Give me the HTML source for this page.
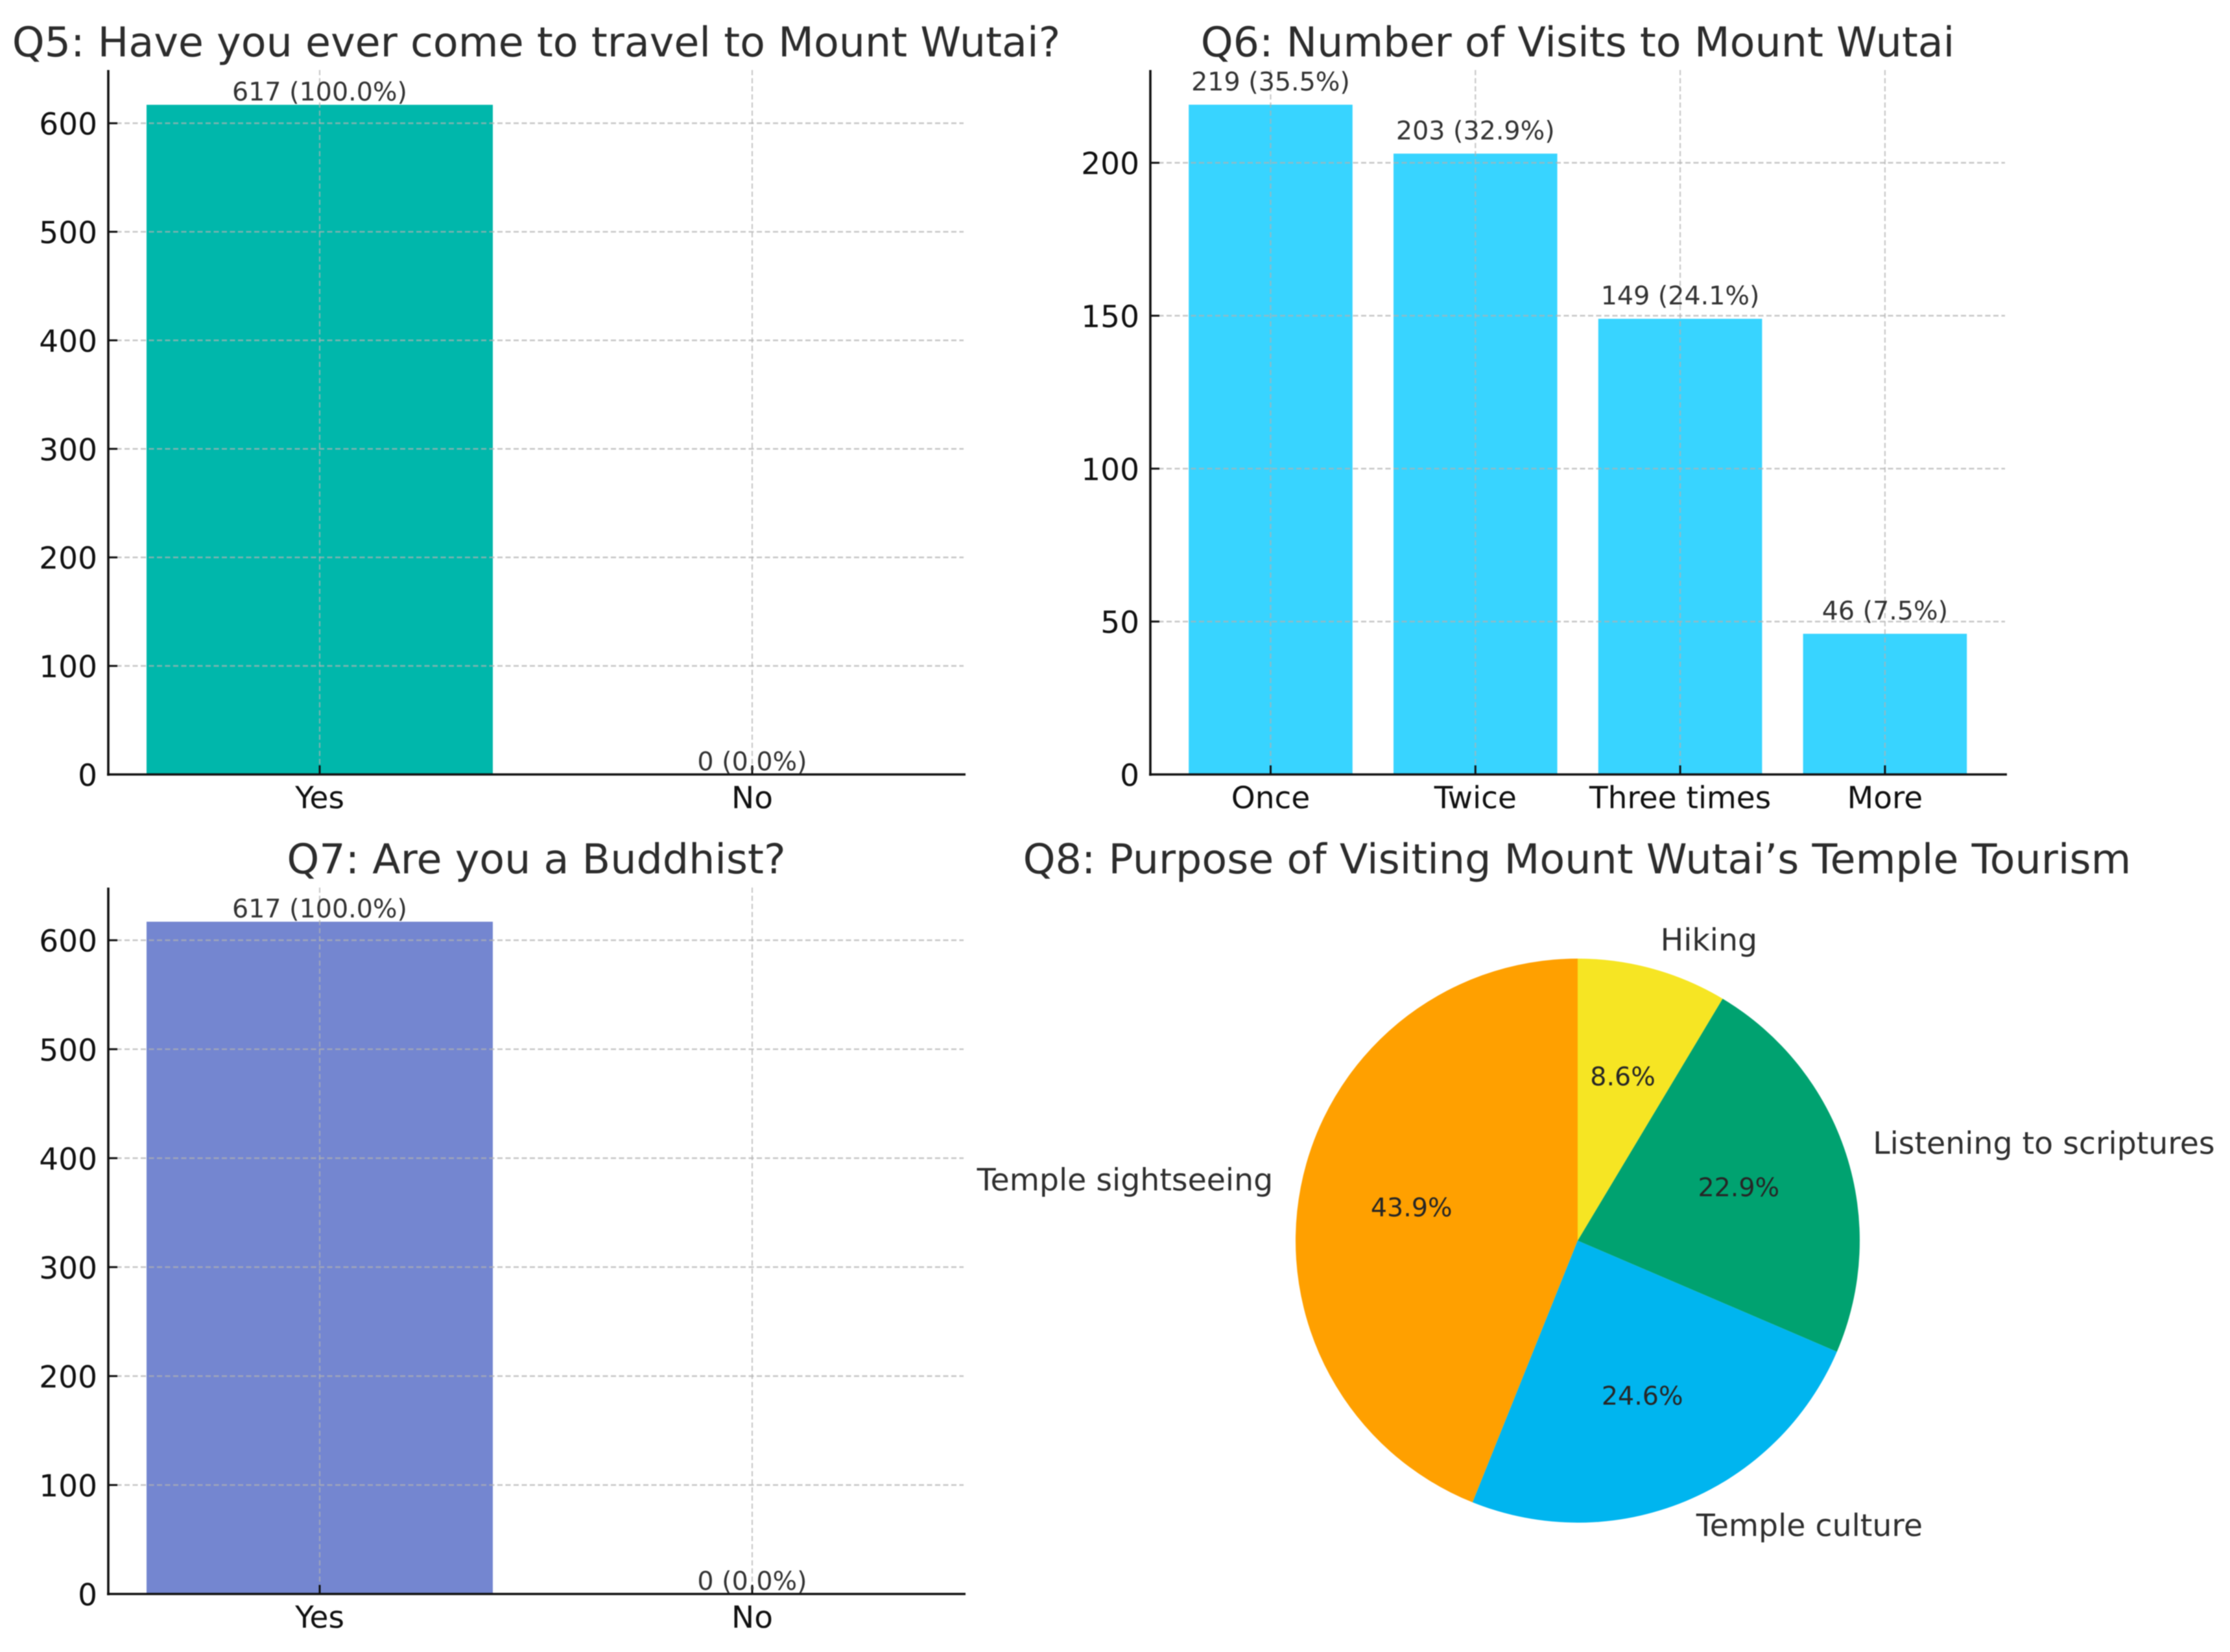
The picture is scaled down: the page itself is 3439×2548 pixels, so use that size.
<!DOCTYPE html>
<html lang="en">
<head>
<meta charset="utf-8">
<title>Mount Wutai survey charts</title>
<style>
  html, body { margin: 0; padding: 0; background: #fff; }
  #chart-root { display: block; width: 3439px; height: 2548px; filter: blur(0.7px); }
  text { font-family: "DejaVu Sans", "Liberation Sans", sans-serif; text-rendering: geometricPrecision; }
  .title { font-size: 63.5px; fill: #2c2c2c; text-anchor: middle; }
  .tick { font-size: 47px; fill: #111; }
  .value { font-size: 39.6px; fill: #333; text-anchor: middle; }
  .pie-label { font-size: 47.4px; fill: #2f2f2f; }
  .pie-pct { font-size: 39.6px; fill: #262626; text-anchor: middle; }
</style>
</head>
<body>
<svg id="chart-root" xmlns="http://www.w3.org/2000/svg" width="3439" height="2548" viewBox="0 0 3439 2548">
  <rect x="0" y="0" width="3439" height="2548" fill="#ffffff"></rect>
  <text class="title" x="827" y="87">Q5: Have you ever come to travel to Mount Wutai?</text>
  <text class="title" x="2433" y="87">Q6: Number of Visits to Mount Wutai</text>
  <text class="title" x="827" y="1347">Q7: Are you a Buddhist?</text>
  <text class="title" x="2432" y="1347">Q8: Purpose of Visiting Mount Wutai’s Temple Tourism</text>
  <g id="q5"></g>
  <g id="q6"></g>
  <g id="q7"></g>
  <g id="q8"></g>
</svg>
<script>
// Chart data
const q5Categories = ['Yes', 'No'];
const q5Values = [617, 0];
const q5Ticks = [0, 100, 200, 300, 400, 500, 600];

const q6Categories = ['Once', 'Twice', 'Three times', 'More'];
const q6Values = [219, 203, 149, 46];
const q6Ticks = [0, 50, 100, 150, 200];

const q7Categories = ['Yes', 'No'];
const q7Values = [617, 0];
const q7Ticks = [0, 100, 200, 300, 400, 500, 600];

const q8Labels = ['Temple sightseeing', 'Temple culture', 'Listening to scriptures', 'Hiking'];
const q8Values = [271, 152, 141, 53];

// Drawing
const NS = 'http://www.w3.org/2000/svg';

function make(parent, tag, attrs, text) {
  const el = document.createElementNS(NS, tag);
  for (const k in attrs) el.setAttribute(k, attrs[k]);
  if (text !== undefined) el.textContent = text;
  parent.appendChild(el);
  return el;
}

function drawBars(opts) {
  const g = document.getElementById(opts.id);
  const n = opts.categories.length;
  const total = opts.values.reduce((a, b) => a + b, 0);
  const xScale = i => opts.firstCenter + i * opts.step;
  const yScale = v => opts.base - v * opts.perUnit;
  const barW = opts.barWidth;

  opts.values.forEach((v, i) => {
    const bar = make(g, 'rect', { x: xScale(i) - barW / 2, y: yScale(v), width: barW, height: opts.base - yScale(v), fill: opts.color });
    
    
  });

  opts.ticks.forEach(t => {
    if (t === 0) return;
    const line = make(g, 'line', { x1: opts.left, x2: opts.right, y1: yScale(t), y2: yScale(t), stroke: '#b0b0b0', 'stroke-width': 2.6, 'stroke-dasharray': '8 4.5', 'stroke-opacity': 0.7 });
    
    
  });
  opts.categories.forEach((c, i) => {
    const line = make(g, 'line', { x1: xScale(i), x2: xScale(i), y1: opts.top, y2: opts.base, stroke: '#b0b0b0', 'stroke-width': 2.2, 'stroke-dasharray': '8 4.5', 'stroke-opacity': 0.7 });
    
    
  });

  const ySpine = make(g, 'line', { x1: opts.left, x2: opts.left, y1: opts.top, y2: opts.base + 2, stroke: '#111', 'stroke-width': 3.6 });
  
  
  const xSpine = make(g, 'line', { x1: opts.left - 2, x2: opts.right + 3, y1: opts.base, y2: opts.base, stroke: '#111', 'stroke-width': 3.6 });
  
  

  opts.ticks.forEach(t => {
    const mark = make(g, 'line', { x1: opts.left, x2: opts.left + 14, y1: yScale(t), y2: yScale(t), stroke: '#111', 'stroke-width': 3 });
    
    
    const label = make(g, 'text', { class: 'tick', x: opts.left - 17, y: yScale(t) + 17.5, 'text-anchor': 'end' }, String(t));
    
    
  });

  opts.categories.forEach((c, i) => {
    const mark = make(g, 'line', { x1: xScale(i), x2: xScale(i), y1: opts.base - 14, y2: opts.base, stroke: '#111', 'stroke-width': 3 });
    
    
    const label = make(g, 'text', { class: 'tick', x: xScale(i), y: opts.base + 52, 'text-anchor': 'middle' }, c);
    
    
  });

  opts.values.forEach((v, i) => {
    const pct = total ? (v / total * 100).toFixed(1) : '0.0';
    const label = make(g, 'text', { class: 'value', x: xScale(i), y: yScale(v) - opts.labelGap }, v + ' (' + pct + '%)');
    
    
  });
  return n;
}

function drawPie(opts) {
  const g = document.getElementById(opts.id);
  const total = opts.values.reduce((a, b) => a + b, 0);
  const px = (r, deg) => opts.cx + r * Math.cos(deg * Math.PI / 180);
  const py = (r, deg) => opts.cy - r * Math.sin(deg * Math.PI / 180);
  let start = 90;
  opts.values.forEach((v, i) => {
    const sweep = v / total * 360;
    const end = start + sweep;
    const mid = start + sweep / 2;
    const d = 'M ' + opts.cx + ' ' + opts.cy +
      ' L ' + px(opts.r, start) + ' ' + py(opts.r, start) +
      ' A ' + opts.r + ' ' + opts.r + ' 0 ' + (sweep > 180 ? 1 : 0) + ' 0 ' + px(opts.r, end) + ' ' + py(opts.r, end) + ' Z';
    const slice = make(g, 'path', { d: d, fill: opts.colors[i] });
    
    

    const lx = px(opts.r * 1.1, mid);
    const label = make(g, 'text', { class: 'pie-label', x: lx, y: py(opts.r * 1.1, mid) + 13.5, 'text-anchor': lx > opts.cx ? 'start' : 'end' }, opts.labels[i]);
    
    

    const pctLabel = make(g, 'text', { class: 'pie-pct', x: px(opts.r * 0.6, mid), y: py(opts.r * 0.6, mid) + 12 }, (v / total * 100).toFixed(1) + '%');
    
    
    start = end;
  });
}

drawBars({ id: 'q5', categories: q5Categories, values: q5Values, ticks: q5Ticks, color: '#00b7ab',
  left: 167, right: 1486, top: 108, base: 1194.5, firstCenter: 493, step: 667, barWidth: 534, perUnit: 1.674, labelGap: 6.5 });
drawBars({ id: 'q6', categories: q6Categories, values: q6Values, ticks: q6Ticks, color: '#38d4ff',
  left: 1774, right: 3092, top: 108, base: 1194.5, firstCenter: 1959.5, step: 315.8, barWidth: 252.6, perUnit: 4.717, labelGap: 22 });
drawBars({ id: 'q7', categories: q7Categories, values: q7Values, ticks: q7Ticks, color: '#7486d0',
  left: 167, right: 1486, top: 1369, base: 2458.5, firstCenter: 493, step: 667, barWidth: 534, perUnit: 1.6805, labelGap: 6.5 });
drawPie({ id: 'q8', labels: q8Labels, values: q8Values, colors: ['#ffa000', '#00b5ef', '#00a270', '#f6e523'],
  cx: 2433, cy: 1913.5, r: 435 });
</script>
</body>
</html>
